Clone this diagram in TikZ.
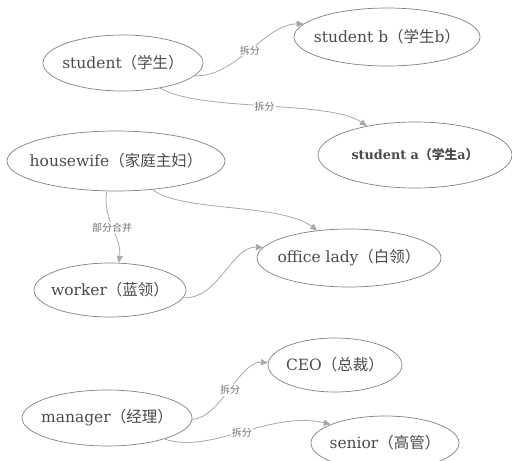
\documentclass[tikz,border=0pt]{standalone}
\usepackage{fontspec}
\setmainfont{DejaVu Serif}
\newfontfamily\cjk{Noto Sans CJK SC}
\usetikzlibrary{shapes.geometric,arrows.meta}
\definecolor{txt}{HTML}{4A4A4A}
\definecolor{bord}{HTML}{808080}
\definecolor{edge}{HTML}{A8A8A8}
\definecolor{lbl}{HTML}{707070}
\newcommand{\zw}[1]{\makebox[0pt][c]{#1}}
\tikzset{
  ell/.style={ellipse,draw=bord,line width=0.7pt,inner sep=0pt,text=txt,font=\fontsize{15.5}{18}\selectfont},
  conn/.style={draw=edge,line width=0.8pt,-{Triangle[length=7pt,width=6pt]},edge},
  elab/.style={fill=white,inner sep=1pt,text=lbl,font=\fontsize{10}{12}\selectfont\cjk}
}
\begin{document}
\begin{tikzpicture}[x=1pt,y=-1pt]
\useasboundingbox (0,0) rectangle (512,461);
\node[ell,minimum width=160pt,minimum height=56pt] (st) at (123,63) {\zw{student{\cjk（学生）}}};
\node[ell,minimum width=186pt,minimum height=58pt] (sb) at (387,37) {\zw{student b{\cjk（学生}b{\cjk）}}};
\node[ell,minimum width=194pt,minimum height=66pt,font=\fontsize{12.8}{15}\selectfont\bfseries] (sa) at (415,155) {\zw{student a{\cjk\bfseries（学生}a{\cjk\bfseries）}}};
\node[ell,minimum width=218pt,minimum height=60pt] (hw) at (116,161) {\zw{housewife{\cjk（家庭主妇）}}};
\node[ell,minimum width=184pt,minimum height=58pt] (ol) at (349,258) {\zw{office lady{\cjk（白领）}}};
\node[ell,minimum width=152pt,minimum height=54pt] (wk) at (110,290) {\zw{worker{\cjk（蓝领）}}};
\node[ell,minimum width=134pt,minimum height=54pt] (ceo) at (335,365) {\zw{CEO{\cjk（总裁）}}};
\node[ell,minimum width=170pt,minimum height=56pt] (mg) at (107,418) {\zw{manager{\cjk（经理）}}};
\node[ell,minimum width=148pt,minimum height=54pt] (sn) at (385,443) {\zw{senior{\cjk（高管）}}};

\draw[conn] (st.-10) .. controls (235,78) and (265,24) .. node[elab] (l1) {拆分} (sb.171);
\draw[conn] (st.-34) .. controls (200,112) and (330,100) .. node[elab] (l2) {拆分} (sa.149);
\draw[conn] (hw.-38) .. controls (180,212) and (280,203) .. (ol.139);
\draw[conn] (hw.-107) .. controls (102,218) and (122,238) .. node[elab] (l3) {部分合并} (wk.72);
\draw[conn] (wk.-6) .. controls (218,300) and (232,246) .. (ol.173);
\draw[conn] (mg.-1) .. controls (220,418) and (240,361) .. node[elab] (l4) {拆分} (ceo.178);
\draw[conn] (mg.-20) .. controls (210,455) and (270,410) .. node[elab] (l5) {拆分} (sn.161);
\end{tikzpicture}
\end{document}
